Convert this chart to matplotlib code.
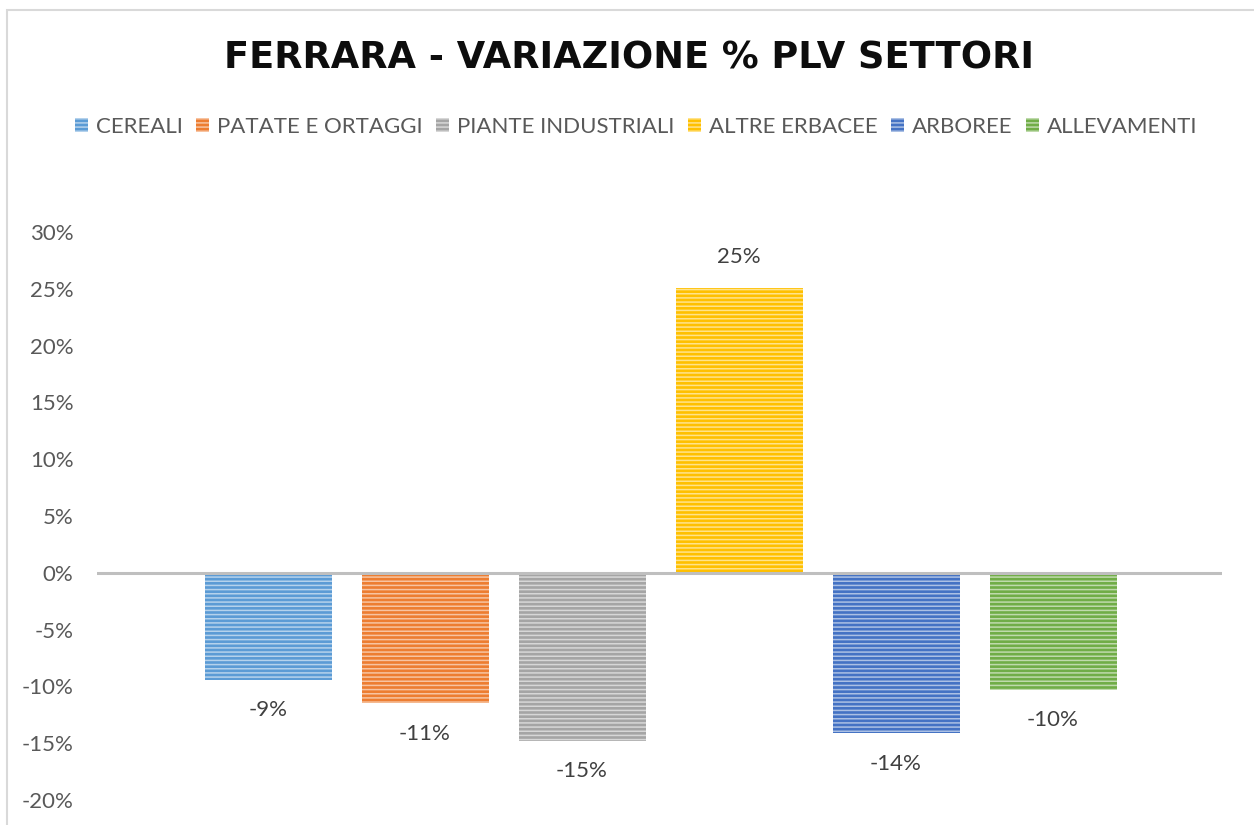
import matplotlib
matplotlib.use("Agg")
import matplotlib.pyplot as plt
from matplotlib.patches import Patch, Rectangle
from matplotlib.ticker import FuncFormatter, MultipleLocator
import matplotlib.colors as mcolors
import numpy as np

# ---- data ----
title = "FERRARA - VARIAZIONE % PLV SETTORI"
categories = ["CEREALI", "PATATE E ORTAGGI", "PIANTE INDUSTRIALI",
              "ALTRE ERBACEE", "ARBOREE", "ALLEVAMENTI"]
values = [-0.094, -0.115, -0.148, 0.251, -0.141, -0.103]
labels = ["-9%", "-11%", "-15%", "25%", "-14%", "-10%"]
colors = ["#5B9BD5", "#ED7D31", "#A5A5A5", "#FFC000", "#4472C4", "#70AD47"]

plt.rcParams['font.family'] = ['Lato', 'DejaVu Sans']
plt.rcParams['hatch.linewidth'] = 1.1

W, H = 1254, 825
fig = plt.figure(figsize=(W / 100, H / 100), dpi=100)
fig.patch.set_facecolor("white")

# chart frame
fig.add_artist(Rectangle((7 / W, -0.1), 1.2, (H - 10) / H + 0.1,
                         transform=fig.transFigure, fill=False,
                         edgecolor="#D9D9D9", linewidth=1.5))

ax = fig.add_axes([97 / W, 25 / H, (1222 - 97) / W, (800 - 232) / H])

def lighten(c, f=0.5):
    r, g, b = mcolors.to_rgb(c)
    return (r + (1 - r) * f, g + (1 - g) * f, b + (1 - b) * f)

x = np.arange(len(categories))
width = 127 / 157
for i, (v, c) in enumerate(zip(values, colors)):
    ax.bar(x[i], v, width=width, color=c, edgecolor=lighten(c, 0.55),
           linewidth=0, hatch="----", zorder=2)

for i, (v, lab) in enumerate(zip(values, labels)):
    off = 22 if v > 0 else -22
    ax.annotate(lab, (x[i], v), xytext=(0, off), textcoords="offset points",
                ha="center", va="center", fontsize=16, color="#404040")

ax.axhline(0, color="#BFBFBF", linewidth=2.2, zorder=3)

ax.set_ylim(-0.2, 0.3)
ax.set_xlim((97 - 268) / 157, (1222 - 268) / 157)
ax.yaxis.set_major_locator(MultipleLocator(0.05))
ax.yaxis.set_major_formatter(FuncFormatter(lambda v, p: f"{v * 100:.0f}%"))
ax.tick_params(axis="y", length=0, pad=17, labelsize=16, labelcolor="#595959")
ax.set_xticks([])
for s in ax.spines.values():
    s.set_visible(False)
ax.set_facecolor("none")

fig.text(629 / W, 1 - 58 / H, title, ha="center", va="center",
         fontsize=26.5, fontweight="bold", color="#0D0D0D",
         family=["DejaVu Sans"])

handles = [Patch(facecolor=c, edgecolor=lighten(c, 0.55), linewidth=0,
                 hatch="----") for c in colors]
fig.legend(handles, categories, loc="center", ncol=6,
           bbox_to_anchor=(636 / W, 1 - 127 / H), frameon=False,
           fontsize=16, labelcolor="#595959", handlelength=0.6,
           handleheight=0.6, handletextpad=0.35, columnspacing=0.6)

fig.savefig("out.png", dpi=100)
